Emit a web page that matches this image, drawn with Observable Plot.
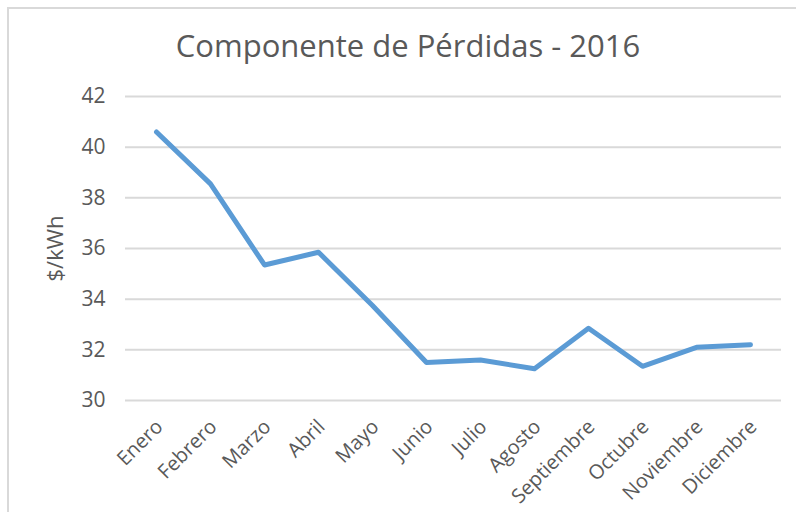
<!DOCTYPE html>
<html>
<head>
<meta charset="utf-8">
<script src="https://cdn.jsdelivr.net/npm/d3@7"></script>
<script src="https://cdn.jsdelivr.net/npm/@observablehq/plot@0.6"></script>
<style>
  html, body { margin: 0; padding: 0; background: #fff; }
  #wrap { position: relative; width: 796px; height: 512px; overflow: hidden; font-family: "Open Sans", sans-serif; }
  #frame { position: absolute; left: 7px; top: 7px; width: 900px; height: 600px; border-left: 2px solid #d9d9d9; border-top: 2px solid #d9d9d9; }
  #title { position: absolute; left: 10px; width: 796px; top: 24px; text-align: center; font-size: 31px; line-height: 1.362; color: #595959; white-space: nowrap; }
  #chart { position: absolute; left: 0; top: 0; }
</style>
</head>
<body>
<div id="wrap">
  <div id="frame"></div>
  <div id="chart"></div>
  <div id="title">Componente de Pérdidas - 2016</div>
</div>
<script>
const months = ["Enero","Febrero","Marzo","Abril","Mayo","Junio","Julio","Agosto","Septiembre","Octubre","Noviembre","Diciembre"];
const values = [40.6, 38.55, 35.35, 35.85, 33.75, 31.5, 31.6, 31.25, 32.85, 31.35, 32.1, 32.2];
const yTicks = [30, 32, 34, 36, 38, 40, 42];
const yLabel = "$/kWh";

const data = months.map((m, i) => ({month: m, value: values[i]}));

const chart = Plot.plot({
  width: 796,
  height: 512,
  marginTop: 96,
  marginBottom: 112,
  marginLeft: 125,
  marginRight: 15,
  style: {background: "transparent", fontFamily: "Open Sans, sans-serif", color: "#595959"},
  x: {type: "point", domain: months, padding: 0.5},
  y: {domain: [30, 42]},
  marks: [
    Plot.ruleY(yTicks, {stroke: "#d9d9d9", strokeWidth: 2}),
    Plot.axisY({ticks: yTicks, tickSize: 0, tickPadding: 20, fontSize: 21, label: null}),
    Plot.text([yLabel], {frameAnchor: "left", textAnchor: "middle", dx: -70, dy: 0, rotate: -90, fontSize: 22, fill: "#595959"}),
    Plot.axisX({tickSize: 0, tickRotate: -45, tickPadding: 23, dx: 3, fontSize: 20, label: null}),
    Plot.line(data, {x: "month", y: "value", stroke: "#5b9bd5", strokeWidth: 5, strokeLinejoin: "round", strokeLinecap: "round"})
  ]
});
document.getElementById("chart").appendChild(chart);
</script>
</body>
</html>
